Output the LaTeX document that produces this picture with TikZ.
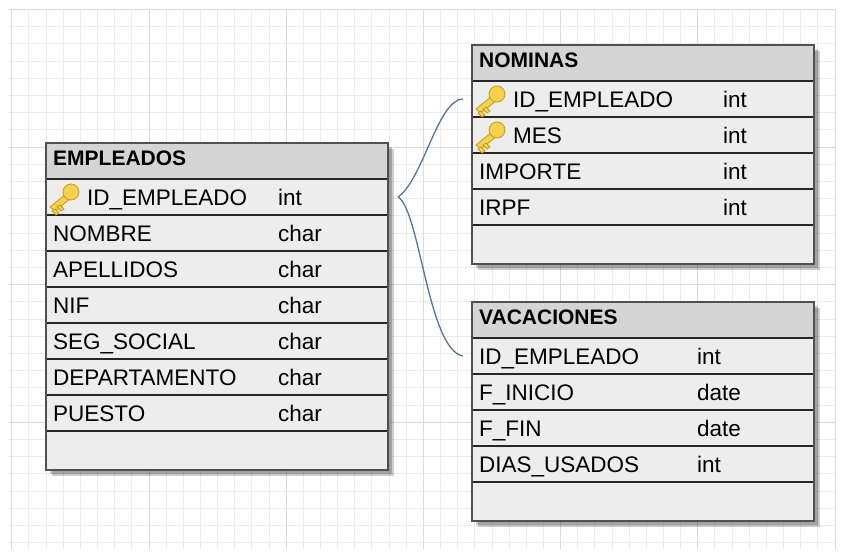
\documentclass[tikz,border=0pt]{standalone}
\usepackage{fontspec}
\setmainfont{Liberation Sans}
\usetikzlibrary{positioning,calc}
\definecolor{cabecera}{HTML}{D5D5D5}
\definecolor{fondofila}{HTML}{EDEDED}
\definecolor{borde}{HTML}{505050}
\definecolor{separador}{HTML}{262626}
\definecolor{relacion}{HTML}{52769A}
\definecolor{rejilla}{HTML}{ECECEC}
\definecolor{rejillaf}{HTML}{DADADA}
\definecolor{oro}{HTML}{F6D24A}
\definecolor{orooscuro}{HTML}{C49A1A}
\tikzset{
  fila/.style={draw=separador,line width=2.2pt,fill=fondofila,minimum width=342pt,
    minimum height=36pt,inner sep=0pt,outer sep=0pt,anchor=north west},
  cab/.style={fila,fill=cabecera},
  titulo/.style={anchor=base west,inner sep=0pt,font=\bfseries\fontsize{21}{24}\selectfont},
  campo/.style={anchor=base west,inner sep=0pt,font=\fontsize{22.5}{24}\selectfont},
  marco/.style={draw=borde,line width=2.6pt},
  sombra/.style={fill=black,opacity=.2},
  rel/.style={draw=relacion,line width=1.3pt},
  llave/.style={fill=oro,draw=orooscuro,line width=.8pt,line join=round},
}
\newcommand*{\llave}[1]{%
  \begin{scope}[shift={($(#1.west)+(19,0)$)}]
    \filldraw[llave] (1,-3) -- (6,1) -- (-10,14) -- (-15,10) -- cycle;
    \filldraw[llave] (-5,8) -- (-1,12) -- (-4,14) -- (-8,10) -- cycle;
    \filldraw[llave] (-10,12) -- (-6,16) -- (-9,18) -- (-13,14) -- cycle;
    \filldraw[llave] (6,-5) circle[radius=8];
  \end{scope}}

\begin{document}
\begin{tikzpicture}[x=1pt,y=-1pt]
\useasboundingbox (0,0) rectangle (844,557);
% rejilla
\foreach \i in {0,...,48}
  \draw[rejilla,line width=.8pt] ({11.7+17.15*\i},9) -- ({11.7+17.15*\i},549);
\foreach \j in {0,...,31}
  \draw[rejilla,line width=.8pt] (9,{9.3+17.2*\j}) -- (836,{9.3+17.2*\j});
\foreach \i in {0,8,...,48}
  \draw[rejillaf,line width=.8pt] ({11.7+17.15*\i},9) -- ({11.7+17.15*\i},549);
\foreach \j in {0,8,...,24}
  \draw[rejillaf,line width=.8pt] (9,{9.3+17.2*\j}) -- (836,{9.3+17.2*\j});

\coordinate (emp-o) at (46,143);
\coordinate (nom-o) at (472,45);
\coordinate (vac-o) at (472,302);
\foreach \o/\h in {emp-o/327,nom-o/219,vac-o/219}{
  \fill[sombra] ($(\o)+(6,6)$) rectangle ++(342,\h);
  \fill[sombra] ($(\o)+(4,4)$) rectangle ++(342,\h);
}

% EMPLEADOS
\node[cab] (emp) at (emp-o) {};
\node[titulo] (emp-t) at ($(emp.north west)+(7,22.5)$) {EMPLEADOS};
\foreach \n/\t/\d [count=\i] in {ID\_EMPLEADO/int/41,NOMBRE/char/7,APELLIDOS/char/7,
    NIF/char/7,SEG\_SOCIAL/char/7,DEPARTAMENTO/char/7,PUESTO/char/7}{
  \node[fila] (emp-\i) at ($(emp-o)+(0,36*\i)$) {};
  \node[campo] (emp-n\i) at ($(emp-\i.west)+(\d,8)$) {\n};
  \node[campo] (emp-y\i) at ($(emp-\i.west)+(232,8)$) {\t};
}
\node[fila,minimum height=39pt] (emp-8) at ($(emp-o)+(0,288)$) {};
\draw[marco] (emp.north west) rectangle (emp-8.south east);
\llave{emp-1}

% NOMINAS
\node[cab] (nom) at (nom-o) {};
\node[titulo] (nom-t) at ($(nom.north west)+(7,22.5)$) {NOMINAS};
\foreach \n/\t/\d [count=\i] in {ID\_EMPLEADO/int/41,MES/int/41,IMPORTE/int/7,IRPF/int/7}{
  \node[fila] (nom-\i) at ($(nom-o)+(0,36*\i)$) {};
  \node[campo] (nom-n\i) at ($(nom-\i.west)+(\d,8)$) {\n};
  \node[campo] (nom-y\i) at ($(nom-\i.west)+(251,8)$) {\t};
}
\node[fila,minimum height=39pt] (nom-5) at ($(nom-o)+(0,180)$) {};
\draw[marco] (nom.north west) rectangle (nom-5.south east);
\llave{nom-1}
\llave{nom-2}

% VACACIONES
\node[cab] (vac) at (vac-o) {};
\node[titulo] (vac-t) at ($(vac.north west)+(7,22.5)$) {VACACIONES};
\foreach \n/\t [count=\i] in {ID\_EMPLEADO/int,F\_INICIO/date,F\_FIN/date,DIAS\_USADOS/int}{
  \node[fila] (vac-\i) at ($(vac-o)+(0,36*\i)$) {};
  \node[campo] (vac-n\i) at ($(vac-\i.west)+(7,8)$) {\n};
  \node[campo] (vac-y\i) at ($(vac-\i.west)+(225,8)$) {\t};
}
\node[fila,minimum height=39pt] (vac-5) at ($(vac-o)+(0,180)$) {};
\draw[marco] (vac.north west) rectangle (vac-5.south east);

% relaciones
\coordinate (punta) at ($(emp-1.east)+(10,0)$);
\draw[rel] (punta) .. controls ($(punta)+(25,-17)$) and ($(nom-1.west)+(-34,0)$)
  .. ($(nom-1.west)+(-9,0)$);
\draw[rel] (punta) .. controls ($(punta)+(22,13)$) and ($(vac-1.west)+(-44,-6)$)
  .. ($(vac-1.west)+(-9,0)$);
\end{tikzpicture}
\end{document}
